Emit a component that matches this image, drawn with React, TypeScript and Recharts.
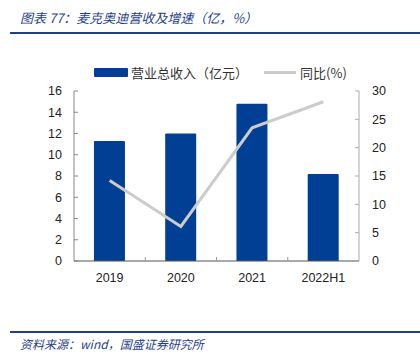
import React from "react";
import {
  ComposedChart,
  Bar,
  Line,
  XAxis,
  YAxis,
} from "recharts";

// 数据
const periods = ["2019", "2020", "2021", "2022H1"];
const revenue = [11.3, 12.0, 14.8, 8.2];
const yoy = [14.2, 6.1, 23.5, 28.1];
const leftTicks = [0, 2, 4, 6, 8, 10, 12, 14, 16];
const rightTicks = [0, 5, 10, 15, 20, 25, 30];

const BLUE = "#003f93";
const GREY = "#cccccc";
const HEAD = "#1f3f8c";
const tickFont = { fontFamily: "Liberation Sans", fontSize: 12.5, fill: "#222" };

const data = periods.map((p, i) => ({ name: p, revenue: revenue[i], yoy: yoy[i] }));

// x 轴标签 + 类别之间的小刻度
const XTick = (props: any) => {
  const { x, y, payload, index } = props;
  const axisY = y - 12;
  const half = payload.offset || 0;
  return (
    <g>
      <text x={x} y={y} dy="0.71em" textAnchor="middle" {...tickFont}>
        {payload.value}
      </text>
      {index < periods.length - 1 && (
        <line x1={x + half} x2={x + half} y1={axisY} y2={axisY - 4} stroke="#999" />
      )}
    </g>
  );
};

const App: React.FC = () => {
  return (
    <div
      style={{
        position: "absolute",
        left: 0,
        top: 0,
        width: 420,
        height: 352,
        background: "#fff",
        fontFamily: "'Noto Sans CJK SC', sans-serif",
      }}
    >
      {/* 标题 */}
      <div
        style={{
          position: "absolute",
          left: 20,
          top: 8,
          fontSize: 13,
          fontStyle: "italic",
          color: HEAD,
          whiteSpace: "nowrap",
        }}
      >
        图表 77：麦克奥迪营收及增速（亿，%）
      </div>
      <div style={{ position: "absolute", left: 10, top: 32, width: 410, height: 2, background: HEAD }} />

      {/* 图例 */}
      <div
        style={{
          position: "absolute",
          left: 94,
          top: 63,
          display: "flex",
          alignItems: "center",
          fontSize: 13,
          color: "#333",
          whiteSpace: "nowrap",
        }}
      >
        <span style={{ display: "inline-block", width: 34, height: 9, background: BLUE, borderRadius: 1 }} />
        <span style={{ marginLeft: 3 }}>营业总收入（亿元）</span>
        <span style={{ display: "inline-block", width: 32, height: 3, background: GREY, marginLeft: 16 }} />
        <span style={{ marginLeft: 4 }}>同比(%)</span>
      </div>

      <div style={{ position: "absolute", left: 0, top: 0 }}>
        <ComposedChart
          width={420}
          height={352}
          data={data}
          margin={{ top: 91, right: 21, bottom: 61, left: 34 }}
          barCategoryGap="28%"
        >
          <XAxis
            dataKey="name"
            height={30}
            tickSize={0}
            tickMargin={12}
            tickLine={false}
            axisLine={{ stroke: "#555" }}
            tick={<XTick />}
            interval={0}
          />
          <YAxis
            yAxisId="left"
            width={40}
            domain={[0, 16]}
            ticks={leftTicks}
            tickSize={-4}
            tickMargin={16}
            axisLine={{ stroke: "#888" }}
            tickLine={{ stroke: "#888" }}
            tick={tickFont}
            interval={0}
          />
          <YAxis
            yAxisId="right"
            orientation="right"
            width={40}
            domain={[0, 30]}
            ticks={rightTicks}
            tickSize={-4}
            tickMargin={17}
            axisLine={{ stroke: "#aaa" }}
            tickLine={{ stroke: "#aaa" }}
            tick={{ ...tickFont, textAnchor: "start" }}
            interval={0}
          />
          <Bar
            yAxisId="left"
            dataKey="revenue"
            fill={BLUE}
            radius={[1, 1, 0, 0]}
            isAnimationActive={false}
          />
          <Line
            yAxisId="right"
            dataKey="yoy"
            stroke={GREY}
            strokeWidth={3}
            dot={false}
            activeDot={false}
            isAnimationActive={false}
          />
        </ComposedChart>
      </div>

      {/* 资料来源 */}
      <div style={{ position: "absolute", left: 10, top: 331, width: 410, height: 2, background: HEAD }} />
      <div
        style={{
          position: "absolute",
          left: 20,
          top: 335,
          fontSize: 12,
          fontStyle: "italic",
          color: HEAD,
          whiteSpace: "nowrap",
        }}
      >
        资料来源：wind，国盛证券研究所
      </div>
    </div>
  );
};

export default App;
